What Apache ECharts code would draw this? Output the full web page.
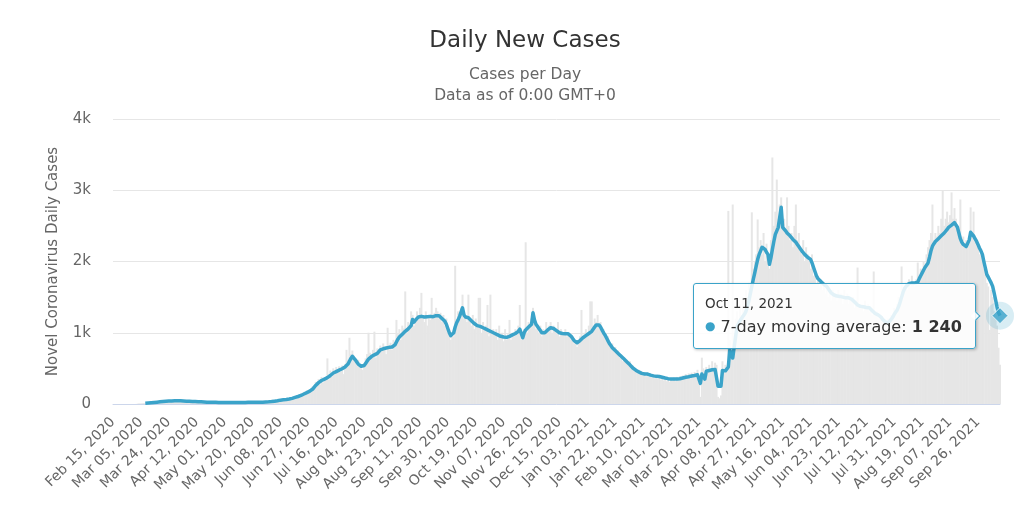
<!DOCTYPE html>
<html><head><meta charset="utf-8">
<script src="https://cdn.jsdelivr.net/npm/echarts@6/dist/echarts.min.js"></script>
<style>html,body{margin:0;padding:0;background:#fff}#chart{width:1024px;height:513px}</style>
</head><body><div id="chart"></div>
<script>
// ---- data ----
const START_YEAR = 2020, START_MONTH = 1, START_DAY = 15; // Feb 15, 2020
const DAY_COUNT = 605;
const MONTHS = ['Jan','Feb','Mar','Apr','May','Jun','Jul','Aug','Sep','Oct','Nov','Dec'];
const yTicks = [0, 1000, 2000, 3000, 4000];
const titleText = 'Daily New Cases';
const subtitle1 = 'Cases per Day';
const subtitle2 = 'Data as of 0:00 GMT+0';
const yAxisName = 'Novel Coronavirus Daily Cases';
const lineName = '7-day moving average';

const dailyCases = [
0,0,0,0,0,0,0,0,0,0,0,0,0,0,0,0,2,5,8,6,10,12,
9,14,11,20,16,25,22,30,
24,33,28,36,31,40,35,45,38,48,
40,50,46,42,52,41,47,38,45,36,
44,35,40,32,38,30,37,29,34,28,
33,25,31,24,29,22,28,20,27,21,
26,19,25,20,24,18,23,17,24,19,
22,17,23,19,24,18,25,20,26,19,
27,20,26,21,28,22,27,23,29,21,
30,22,31,24,33,27,35,30,40,34,
48,38,55,44,62,50,70,56,75,60,
82,64,95,78,110,90,125,100,150,118,
170,128,190,150,210,175,250,215,310,260,
350,270,380,300,330,360,640,340,470,380,
500,420,520,440,530,450,540,420,560,760,
620,930,700,750,680,600,560,620,520,500,
480,560,640,700,1000,720,690,760,1015,650,
780,720,820,760,850,770,700,1070,820,860,
760,900,840,1180,980,1050,900,1100,1060,1580,
1000,1150,1080,1300,1250,1100,1200,1300,1180,1350,
1560,1200,1150,1300,1100,1250,1180,1490,1200,1280,
1350,1300,1200,1280,1150,1250,1100,1200,1000,1050,
900,1000,950,1940,1100,1300,1250,1350,1535,1200,
1250,1150,1535,1180,1100,1250,1050,1200,1100,1490,
1490,1000,1150,1050,1100,1390,950,1535,1000,1050,
980,1050,900,1100,950,1000,880,1050,900,980,
1180,900,1000,950,1050,980,1100,1390,900,1000,
1050,2270,1000,1150,1100,1200,1350,1150,1050,1100,
1000,1100,950,1050,1000,1150,1050,1100,1150,1000,
1100,1050,1000,1150,950,1050,1000,980,1050,950,
1000,980,900,950,850,900,800,880,950,1320,
900,1000,1050,950,1100,1440,1440,1100,1200,1150,
1250,1100,1150,1000,1050,950,900,950,850,800,
850,750,800,700,750,650,700,600,650,580,
620,560,600,500,540,470,500,430,480,420,
460,400,450,390,440,380,430,370,420,360,
410,350,400,340,390,330,380,320,370,310,
360,330,370,320,380,340,390,350,400,360,
420,380,430,350,440,400,450,420,480,400,
100,650,500,350,520,480,550,450,600,500,
580,550,100,80,120,600,450,550,500,2710,
900,700,2800,900,1200,1300,1050,1400,1250,1500,
1400,1600,1500,1700,1650,2690,1900,2000,2100,2590,
2200,2300,2100,2400,2000,2250,2100,1900,2300,3460,
2500,2700,3150,2600,2800,2900,2500,2600,2400,2900,
2500,2300,2400,2200,2500,2800,2300,2400,2200,2100,
2300,2000,2200,2100,2000,1900,2100,1800,1900,1700,
1800,1650,1750,1600,1700,1550,1650,1500,1600,1450,
1600,1500,1550,1450,1600,1500,1550,1400,1600,1500,
1550,1400,1500,1450,1500,1350,1450,1915,1400,1350,
1400,1300,1450,1350,1400,1300,1350,1250,1860,1300,
1300,1200,1250,1150,1200,1100,1150,1050,1200,1150,
1250,1200,1350,1300,1400,1500,1450,1930,1600,1650,
1700,1600,1750,1650,1800,1700,1650,1750,1985,1800,
1900,1850,2000,1950,2100,2200,2300,2400,2800,2300,
2400,2350,2500,2400,2600,2990,2500,2600,2700,2550,
2650,2970,2600,2750,2600,2500,2400,2870,2300,2350,
2250,2300,2200,2350,2760,2400,2700,2300,2250,2200,
2100,2150,2000,1900,1850,1700,1650,1040,1600,1500,
1300,1200,1100,790,550
];

const movingAvg = [
null,null,null,null,null,null,null,null,null,null,null,null,null,null,null,null,null,null,null,null,null,null,
10,12,14,16,18,20,22,24,
26,28,30,32,34,36,38,40,41,42,
43,44,45,45,45,44,44,43,42,41,
40,39,38,37,36,35,34,33,32,31,
30,29,28,27,26,25,25,24,24,23,
23,22,22,22,21,21,21,21,21,20,
20,20,20,21,21,21,21,21,22,22,
22,22,23,23,23,24,24,24,25,25,
25,26,26,27,28,29,30,32,34,36,
40,43,46,50,54,57,60,62,64,67,
70,74,79,85,92,100,105,110,120,130,
140,150,160,170,180,190,210,235,260,280,
300,315,330,340,350,360,370,385,400,420,
435,445,455,465,475,485,495,505,520,540,
560,600,640,670,650,620,590,560,540,530,
525,540,570,600,630,650,665,680,690,700,
710,735,760,770,775,780,785,790,795,800,
800,805,830,870,910,940,960,980,1000,1020,
1040,1055,1070,1100,1185,1150,1180,1200,1220,1240,
1230,1225,1220,1220,1225,1225,1230,1225,1225,1230,
1240,1250,1240,1220,1200,1180,1160,1120,1060,1000,
960,950,1000,1080,1140,1180,1230,1290,1350,1250,
1220,1215,1210,1190,1170,1150,1130,1115,1100,1095,
1090,1080,1070,1060,1050,1040,1030,1020,1010,1000,
990,980,970,960,950,945,940,930,935,940,
950,960,970,980,990,1000,1020,1050,1040,930,
1000,1040,1060,1080,1100,1120,1280,1180,1120,1090,
1060,1030,1000,985,1000,1020,1040,1060,1070,1070,
1060,1050,1030,1010,1000,995,990,990,985,985,
985,970,950,920,890,870,860,870,890,910,
930,945,960,980,990,1000,1020,1040,1080,1110,
1120,1110,1080,1040,1000,970,930,890,850,820,
790,770,750,730,710,690,670,650,630,610,
590,570,550,530,505,490,475,460,450,440,
430,425,420,420,420,410,405,400,395,390,
388,386,385,380,375,370,365,360,356,354,
352,350,350,350,350,352,355,360,365,370,
375,378,382,388,392,396,400,405,410,400,
290,420,440,350,460,470,470,475,480,480,
485,490,250,245,250,470,470,465,470,520,
760,700,645,800,950,1090,1130,1170,1200,1230,
1260,1300,1370,1450,1550,1650,1750,1840,1940,2030,
2100,2150,2200,2225,2170,2130,2100,1960,2050,2170,
2280,2380,2430,2480,2500,2760,2480,2460,2430,2400,
2380,2360,2340,2310,2290,2270,2240,2210,2180,2150,
2125,2100,2080,2060,2040,2030,1980,1920,1860,1800,
1760,1740,1720,1700,1680,1660,1650,1620,1590,1560,
1540,1530,1520,1515,1510,1510,1505,1500,1495,1490,
1490,1490,1490,1470,1450,1430,1410,1390,1380,1370,
1370,1365,1360,1355,1350,1350,1330,1310,1290,1270,
1260,1250,1250,1220,1190,1170,1150,1140,1140,1160,
1190,1220,1260,1290,1320,1370,1430,1500,1570,1620,
1650,1670,1690,1700,1700,1700,1700,1700,1710,1760,
1800,1840,1880,1920,1930,1980,2060,2150,2215,2250,
2280,2300,2320,2340,2360,2380,2400,2420,2450,2480,
2500,2510,2530,2545,2530,2480,2400,2320,2270,2240,
2220,2210,2200,2300,2410,2390,2360,2320,2285,2240,
2190,2150,2100,2000,1910,1820,1780,1740,1700,1650,
1560,1460,1360,1280,1240
];

// ---- derived ----
const categories = [];
for (let i = 0; i < DAY_COUNT; i++) {
  const d = new Date(Date.UTC(START_YEAR, START_MONTH, START_DAY + i));
  categories.push(MONTHS[d.getUTCMonth()] + ' ' + String(d.getUTCDate()).padStart(2, '0') + ', ' + d.getUTCFullYear());
}
const LAST = DAY_COUNT - 1;
const lastPoint = movingAvg.map((v, i) => i === LAST ? v : null);
function fmtNum(v) { return String(v).replace(/\B(?=(\d{3})+(?!\d))/g, ' '); }

const FONT = 'DejaVu Sans';
const BLUE = '#3aa3c9';
const chart = echarts.init(document.getElementById('chart'), null, { renderer: 'canvas' });
chart.setOption({
  animation: false,
  textStyle: { fontFamily: FONT },
  title: [
    { text: titleText, left: 520, top: 25, textAlign: 'center',
      textStyle: { fontFamily: FONT, fontSize: 23, fontWeight: 'normal', color: '#333' } },
    { text: subtitle1, left: 520, top: 62, textAlign: 'center',
      textStyle: { fontFamily: FONT, fontSize: 15.5, fontWeight: 'normal', color: '#666' } },
    { text: subtitle2, left: 520, top: 83, textAlign: 'center',
      textStyle: { fontFamily: FONT, fontSize: 15.5, fontWeight: 'normal', color: '#666' } }
  ],
  grid: { left: 113, right: 24, top: 119, bottom: 109, containLabel: false },
  tooltip: {
    trigger: 'item', triggerOn: 'none', alwaysShowContent: true, position: 'left',
    backgroundColor: 'rgba(255,255,255,0.86)', borderColor: BLUE, borderWidth: 1,
    padding: [9, 13, 9, 11],
    extraCssText: 'box-shadow:1px 1px 3px rgba(0,0,0,0.25);border-radius:3px;',
    textStyle: { fontFamily: FONT, color: '#333' },
    formatter: function (p) {
      const i = p.dataIndex;
      return '<div style="font-size:13.5px;line-height:21px;color:#333">' + categories[i] + '</div>' +
        '<div style="font-size:16px;line-height:24px;color:#333"><span style="color:' + BLUE + ';font-size:12px;vertical-align:2px">\u25CF</span> ' +
        lineName + ': <b>' + fmtNum(movingAvg[i]) + '</b></div>';
    }
  },
  xAxis: {
    type: 'category', data: categories, boundaryGap: false,
    axisLine: { lineStyle: { color: '#ccd6eb', width: 1 } },
    axisTick: { show: false },
    splitLine: { show: false },
    axisLabel: { interval: 18, rotate: 45, fontSize: 14, color: '#666', margin: 16, fontFamily: FONT }
  },
  yAxis: {
    type: 'value', min: yTicks[0], max: yTicks[yTicks.length - 1], interval: yTicks[1] - yTicks[0],
    name: yAxisName, nameLocation: 'middle', nameGap: 52,
    nameTextStyle: { fontSize: 15, color: '#666', fontFamily: FONT },
    axisLine: { show: false }, axisTick: { show: false },
    splitLine: { lineStyle: { color: '#e6e6e6', width: 1 } },
    axisLabel: { fontSize: 15, color: '#666', margin: 22, fontFamily: FONT,
      formatter: v => v === 0 ? '0' : (v / 1000) + 'k' }
  },
  series: [
    { type: 'bar', name: 'Daily Cases', data: dailyCases, silent: true,
      barWidth: 2, itemStyle: { color: '#e6e6e6' } },
    { type: 'line', name: lineName, data: movingAvg, showSymbol: false, silent: true,
      lineStyle: { width: 3.5, color: BLUE, join: 'round' }, itemStyle: { color: BLUE }, z: 3 },
    { type: 'scatter', name: lineName, data: lastPoint, symbol: 'circle', symbolSize: 28,
      itemStyle: { color: 'rgba(58,163,201,0.25)' },
      emphasis: { scale: false, itemStyle: { color: 'rgba(58,163,201,0.25)' } }, z: 4 },
    { type: 'scatter', name: lineName, data: lastPoint, symbol: 'diamond', symbolSize: 16, silent: true,
      itemStyle: { color: BLUE, borderColor: '#fff', borderWidth: 1 },
      emphasis: { scale: false, itemStyle: { color: BLUE } }, z: 5 }
  ]
});
function showTip() { chart.dispatchAction({ type: 'showTip', seriesIndex: 2, dataIndex: LAST }); }
showTip();
setTimeout(showTip, 50);
</script>
</body></html>
